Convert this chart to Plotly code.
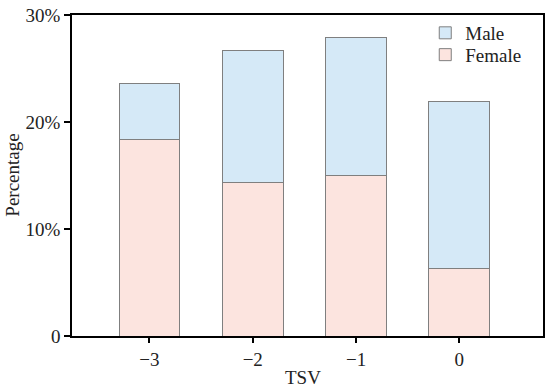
import plotly.graph_objects as go

categories = ["\u22123", "\u22122", "\u22121", "0"]
female = [18.4, 14.3, 15.0, 6.3]
male_total = [23.6, 26.7, 27.9, 21.9]
male = [round(t - f, 2) for t, f in zip(male_total, female)]
ytick_vals = [0, 10, 20, 30]
ytick_text = ["0", "10%", "20%", "30%"]

FONT = "Liberation Serif"
FS = 19

fig = go.Figure()
fig.add_trace(go.Bar(
    x=categories, y=female, name="Female", legend="legend2",
    marker=dict(color="#fce4df", line=dict(color="#7f7f7f", width=1)),
))
fig.add_trace(go.Bar(
    x=categories, y=male, name="Male", legend="legend",
    marker=dict(color="#d5e9f7", line=dict(color="#7f7f7f", width=1)),
))

leg_common = dict(xanchor="left", yanchor="middle", bgcolor="rgba(0,0,0,0)",
                  font=dict(size=FS), itemwidth=30, borderwidth=0)

fig.update_layout(
    width=550, height=389,
    barmode="stack", bargap=0.41,
    plot_bgcolor="white", paper_bgcolor="white",
    margin=dict(l=72, r=7, t=15, b=53, autoexpand=False),
    font=dict(family=FONT, size=FS, color="#222222"),
    legend=dict(x=0.75, y=0.944, **leg_common),
    legend2=dict(x=0.75, y=0.876, **leg_common),
    showlegend=True,
    annotations=[
        dict(text="TSV", xref="paper", yref="paper", x=0.49, y=-0.128,
             xanchor="center", yanchor="middle", showarrow=False,
             font=dict(size=FS)),
        dict(text="Percentage", xref="paper", yref="paper", x=-0.127, y=0.5,
             xanchor="center", yanchor="middle", textangle=-90, showarrow=False,
             font=dict(size=FS)),
    ],
)
fig.update_xaxes(
    type="category", range=[-0.75, 3.81], automargin=False,
    showline=True, linecolor="black", linewidth=1.5, mirror=True,
    ticks="outside", ticklen=5, tickwidth=1.5, tickcolor="black",
    showgrid=False, zeroline=False,
)
fig.update_yaxes(
    range=[0, 30], tickvals=ytick_vals, ticktext=ytick_text, automargin=False,
    showline=True, linecolor="black", linewidth=1.5, mirror=True,
    ticks="outside", ticklen=6, tickwidth=1.5, tickcolor="black",
    showgrid=False, zeroline=False, ticklabeloverflow="allow",
)

fig.write_html("out.html", config={"displayModeBar": False},
               post_script="document.body.style.margin='0';")
